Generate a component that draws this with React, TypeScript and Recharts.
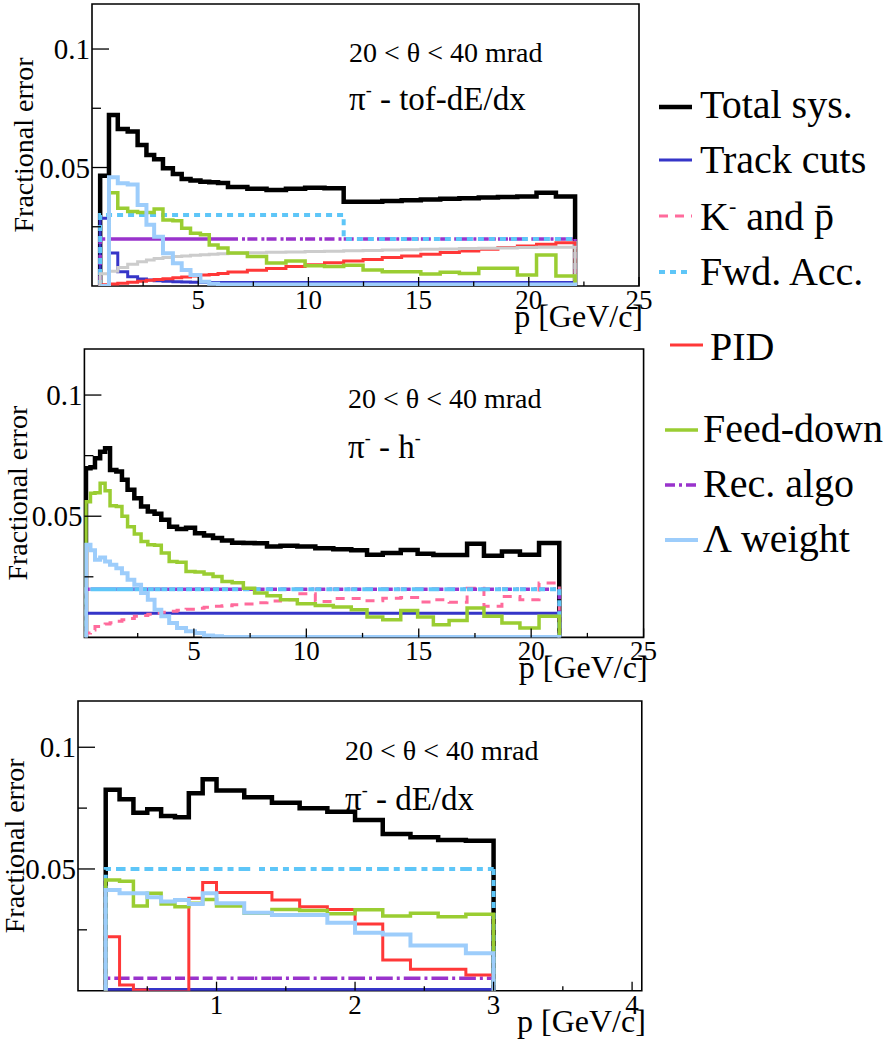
import React from 'react';
import { LineChart, Line, XAxis, YAxis, ReferenceArea, Label } from 'recharts';

const FONT = '"Liberation Serif", "Times New Roman", serif';
const TXT = { fontFamily: FONT };

// ---------- panel 1: pi- tof-dE/dx (bin edges in GeV/c, values = fractional error)
const tofEdges = [0.55, 0.95, 1.35, 1.8, 2.25, 2.65, 3.0, 3.4, 3.85, 4.25, 4.65, 5.1, 5.5, 5.9, 6.35,
  7.23, 8.1, 8.98, 9.85, 10.73, 11.6, 12.48, 13.35, 14.23, 15.1, 15.98, 16.85, 17.73, 18.6, 19.48, 20.35, 21.23, 22.1];
const tofTotal = [0.0465, 0.0722, 0.0662, 0.0652, 0.0595, 0.0553, 0.0535, 0.0497, 0.0473, 0.0451, 0.0445, 0.044, 0.0438, 0.0435,
  0.0418, 0.041, 0.0405, 0.041, 0.0415, 0.0413, 0.0355, 0.0356, 0.0359, 0.0362, 0.0365, 0.0368, 0.037, 0.0373, 0.0376, 0.0378, 0.0394, 0.0378];
const tofTrack = [0.0286, 0.0139, 0.006, 0.0039, 0.003, 0.0025, 0.0022, 0.002, 0.0018, 0.0017, 0.0016,
  0.0015, 0.0015, 0.0015, 0.0015, 0.0015, 0.0015, 0.0015, 0.0015, 0.0015, 0.0015,
  0.0015, 0.0015, 0.0015, 0.0015, 0.0015, 0.0015, 0.0015, 0.0015, 0.0015, 0.0015, 0.0015];
const tofFwd = [0.03, 0.03, 0.03, 0.03, 0.03, 0.03, 0.03, 0.03, 0.03, 0.03,
  0.03, 0.03, 0.03, 0.03, 0.03, 0.03, 0.03, 0.03, 0.03, 0.03,
  0.0198, 0.0198, 0.0198, 0.0198, 0.0198, 0.0198, 0.0198, 0.0198, 0.0198, 0.0198, 0.0198, 0.0198];
const tofPid = [0.0005, 0.0008, 0.0012, 0.0016, 0.002, 0.0024, 0.0027, 0.0031, 0.0035, 0.0038, 0.0042, 0.0046, 0.0049, 0.0053,
  0.0059, 0.0066, 0.0074, 0.0082, 0.009, 0.0098, 0.0105, 0.0112, 0.012, 0.0127, 0.0134, 0.0141, 0.0148, 0.0155, 0.0162, 0.0169, 0.0176, 0.0183];
const tofOther = [0.0052, 0.0062, 0.0078, 0.0092, 0.0102, 0.011, 0.0116, 0.012, 0.0124, 0.0127, 0.013, 0.0132, 0.0134, 0.0136,
  0.0138, 0.014, 0.0142, 0.0144, 0.0146, 0.0147, 0.0149, 0.015, 0.0152, 0.0153, 0.0155, 0.0156, 0.0158, 0.0159, 0.016, 0.0162, 0.0163, 0.0164];
const tofFeed = [0, 0.0394, 0.0328, 0.0314, 0.031, 0.031, 0.0325, 0.0279, 0.0275, 0.0244, 0.0223, 0.0216, 0.0173, 0.016,
  0.0139, 0.0124, 0.0097, 0.0105, 0.0085, 0.0082, 0.0088, 0.0068, 0.006, 0.006, 0.0051, 0.0058, 0.0053, 0.0075, 0.0075, 0.0046, 0.0131, 0.0042];
const tofRec = [0.0198, 0.0198, 0.0198, 0.0198, 0.0198, 0.0198, 0.0198, 0.0198, 0.0198, 0.0198,
  0.0198, 0.0198, 0.0198, 0.0198, 0.0198, 0.0198, 0.0198, 0.0198, 0.0198, 0.0198,
  0.0198, 0.0198, 0.0198, 0.0198, 0.0198, 0.0198, 0.0198, 0.0198, 0.0198, 0.0198, 0.0198, 0.0198];
const tofLambda = [0, 0.0459, 0.0434, 0.0428, 0.0342, 0.0258, 0.0208, 0.0138, 0.0096, 0.0068, 0.0046, 0.0018, 0.001,
  0.0006, 0.0006, 0.0006, 0.0006, 0.0006, 0.0006, 0.0006, 0.0006, 0.0006, 0.0006,
  0.0006, 0.0006, 0.0006, 0.0006, 0.0006, 0.0006, 0.0006, 0.0006, 0.0006, 0.0006];

// ---------- panel 2: pi- h-
const hEdges = [0.2, 0.4, 0.6, 0.83, 1.05, 1.27, 1.55, 1.8, 2.05, 2.35, 2.65, 2.95, 3.25, 3.55, 3.9, 4.25, 4.65, 5.05, 5.45, 5.85,
  6.25, 6.7, 7.2, 7.7, 8.25, 8.85, 9.6, 10.4, 11.2, 12.0, 12.7, 13.4, 14.2, 14.95, 15.65, 16.35, 17.15, 17.9, 18.7, 19.5, 20.35, 21.25];
const hTotal = [0.0698, 0.0702, 0.0739, 0.0766, 0.078, 0.0691, 0.0685, 0.065, 0.0609, 0.0574, 0.054, 0.0519, 0.051, 0.0485,
  0.0457, 0.0447, 0.0452, 0.043, 0.042, 0.041, 0.04, 0.0391, 0.0389, 0.0388, 0.0375, 0.0378, 0.0375, 0.0368, 0.0364, 0.036,
  0.0341, 0.0348, 0.0361, 0.0345, 0.034, 0.034, 0.0386, 0.0337, 0.0354, 0.0341, 0.0389];
const hTrack = [0.01, 0.01, 0.01, 0.01, 0.01, 0.01, 0.01, 0.01, 0.01, 0.01, 0.01, 0.01, 0.01, 0.01,
  0.01, 0.01, 0.01, 0.01, 0.01, 0.01, 0.01, 0.01, 0.01, 0.01, 0.01, 0.01, 0.01, 0.01,
  0.01, 0.01, 0.01, 0.01, 0.01, 0.01, 0.01, 0.01, 0.01, 0.01, 0.01, 0.01, 0.01];
const hKp = [0.0018, 0.003, 0.0045, 0.0052, 0.0055, 0.006, 0.0067, 0.0073, 0.0078, 0.0087, 0.009, 0.0096, 0.01, 0.0104,
  0.0108, 0.0112, 0.0116, 0.012, 0.0124, 0.0128, 0.0131, 0.0135, 0.0138, 0.0143, 0.015, 0.0155, 0.018, 0.0148, 0.016, 0.016,
  0.0151, 0.0162, 0.0165, 0.0146, 0.0155, 0.0145, 0.0203, 0.0128, 0.0169, 0.0155, 0.0224];
const hFwd = [0.0199, 0.0199, 0.0199, 0.0199, 0.0199, 0.0199, 0.0199, 0.0199, 0.0199, 0.0199, 0.0199, 0.0199, 0.0199, 0.0199,
  0.0199, 0.0199, 0.0199, 0.0199, 0.0199, 0.0199, 0.0199, 0.0199, 0.0199, 0.0199, 0.0199, 0.0199, 0.0199, 0.0199,
  0.0199, 0.0199, 0.0199, 0.0199, 0.0199, 0.0199, 0.0199, 0.0199, 0.0199, 0.0199, 0.0199, 0.0199, 0.0199];
const hFeed = [0.056, 0.0595, 0.0597, 0.0636, 0.0605, 0.0543, 0.054, 0.05, 0.0457, 0.0427, 0.0396, 0.0382, 0.038, 0.0348,
  0.0313, 0.031, 0.0272, 0.027, 0.0262, 0.0251, 0.0231, 0.0225, 0.0203, 0.0183, 0.0172, 0.0155, 0.0139, 0.0132, 0.0125, 0.0114,
  0.0084, 0.0073, 0.0111, 0.0084, 0.0052, 0.007, 0.0121, 0.0087, 0.0059, 0.0039, 0.0087];
const hRec = [0.0199, 0.0199, 0.0199, 0.0199, 0.0199, 0.0199, 0.0199, 0.0199, 0.0199, 0.0199, 0.0199, 0.0199, 0.0199, 0.0199,
  0.0199, 0.0199, 0.0199, 0.0199, 0.0199, 0.0199, 0.0199, 0.0199, 0.0199, 0.0199, 0.0199, 0.0199, 0.0199, 0.0199,
  0.0199, 0.0199, 0.0199, 0.0199, 0.0199, 0.0199, 0.0199, 0.0199, 0.0199, 0.0199, 0.0199, 0.0199, 0.0199];
const hLambda = [0.0382, 0.036, 0.032, 0.033, 0.0313, 0.03, 0.0285, 0.0265, 0.0238, 0.0217, 0.0183, 0.0155, 0.0114, 0.0087,
  0.0059, 0.0039, 0.0025, 0.0018, 0.0008, 0.0005, 0.0002, 0.0002, 0.0002, 0.0002, 0.0002, 0.0002, 0.0002, 0.0002,
  0.0002, 0.0002, 0.0002, 0.0002, 0.0002, 0.0002, 0.0002, 0.0002, 0.0002, 0.0002, 0.0002, 0.0002, 0.0002];

// ---------- panel 3: pi- dE/dx
const deEdges = [0.2, 0.3, 0.4, 0.5, 0.6, 0.7, 0.8, 0.9, 1.0, 1.2, 1.4, 1.6, 1.8, 2.0, 2.2, 2.4, 2.6, 2.8, 3.0];
const deTotal = [0.0825, 0.0786, 0.0731, 0.0745, 0.0718, 0.0712, 0.0811, 0.0869, 0.0822, 0.0795, 0.0772, 0.0749, 0.0735, 0.0701, 0.0644, 0.063, 0.0619, 0.0616];
const deTrack = [0.0005, 0.0005, 0.0005, 0.0005, 0.0005, 0.0005, 0.0005, 0.0005, 0.0005, 0.0005, 0.0005, 0.0005, 0.0005, 0.0005, 0.0005, 0.0005, 0.0005, 0.0005];
const deFwd = [0.05, 0.05, 0.05, 0.05, 0.05, 0.05, 0.05, 0.05, 0.05, 0.05, 0.05, 0.05, 0.05, 0.05, 0.05, 0.05, 0.05, 0.05];
const dePid = [0.0222, 0.0023, 0.0003, -0.0004, -0.0004, -0.0004, 0.038, 0.0444, 0.0403, 0.0403, 0.0373, 0.0345, 0.0334, 0.0274, 0.0126, 0.0088, 0.0088, 0.0064];
const deFeed = [0.0455, 0.045, 0.0348, 0.04, 0.0356, 0.0345, 0.0359, 0.0375, 0.0348, 0.0318, 0.0334, 0.0329, 0.0316, 0.0332, 0.0307, 0.0318, 0.0304, 0.0314];
const deRec = [0.0051, 0.0051, 0.0051, 0.0051, 0.0051, 0.0051, 0.0051, 0.0051, 0.0051, 0.0051, 0.0051, 0.0051, 0.0051, 0.0051, 0.0051, 0.0051, 0.0051, 0.0051];
const deLambda = [0.0414, 0.04, 0.04, 0.0384, 0.0366, 0.0373, 0.0356, 0.04, 0.0359, 0.032, 0.0311, 0.0311, 0.0279, 0.0238, 0.0231, 0.0186, 0.0186, 0.0154];

// axis ticks
const yTicks = [0.025, 0.05, 0.075, 0.1];
const yLabelled = [0.05, 0.1];
const pTicksWide = [2.5, 5, 7.5, 10, 12.5, 15, 17.5, 20, 22.5, 25];
const pLabelsWide = [5, 10, 15, 20, 25];
const pTicksNarrow = [0.5, 1, 1.5, 2, 2.5, 3, 3.5, 4];
const pLabelsNarrow = [1, 2, 3, 4];

const STYLE: Record<string, { color: string; width: number; dash?: string }> = {
  total: { color: '#000000', width: 4.5 },
  track: { color: '#3535c8', width: 3 },
  kp: { color: '#ff6b9c', width: 3, dash: '9 7' },
  fwd: { color: '#5ec6f8', width: 4, dash: '6 5' },
  pid: { color: '#ff3838', width: 3 },
  other: { color: '#cccccc', width: 3 },
  feed: { color: '#9acd32', width: 3.5 },
  rec: { color: '#9933cc', width: 3.5, dash: '10 4 3 4' },
  lambda: { color: '#9dcdfb', width: 4 },
};

type Row = { p: number; [k: string]: number };

// step-histogram rows: start and end at zero so the outer bin edges are drawn
function histRows(edges: number[], series: Record<string, number[]>): Row[] {
  const keys = Object.keys(series);
  const n = edges.length - 1;
  const zero = (p: number) => {
    const r: Row = { p };
    keys.forEach((k) => (r[k] = 0));
    return r;
  };
  const rows: Row[] = [zero(edges[0])];
  for (let i = 0; i <= n; i++) {
    const r: Row = { p: edges[i] };
    keys.forEach((k) => (r[k] = series[k][Math.min(i, n - 1)]));
    rows.push(r);
  }
  rows.push(zero(edges[n]));
  return rows;
}

// series are listed in drawing order
const panels = [
  {
    box: { top: 4, bottom: 286, left: 92, right: 639 },
    xDomain: [0.18, 25],
    xTicks: pTicksWide,
    xLabels: pLabelsWide,
    yTitleX: 23,
    rows: histRows(tofEdges, {
      total: tofTotal, track: tofTrack, rec: tofRec, fwd: tofFwd, pid: tofPid, other: tofOther,
      feed: tofFeed, lambda: tofLambda,
    }),
  },
  {
    box: { top: 349.3, bottom: 637.7, left: 84.4, right: 643.6 },
    xDomain: [0.13, 25],
    xTicks: pTicksWide,
    xLabels: pLabelsWide,
    yTitleX: 17,
    rows: histRows(hEdges, {
      total: hTotal, track: hTrack, kp: hKp, rec: hRec, fwd: hFwd, feed: hFeed, lambda: hLambda,
    }),
  },
  {
    box: { top: 701, bottom: 990.7, left: 78, right: 641.8 },
    xDomain: [0, 4.07],
    xTicks: pTicksNarrow,
    xLabels: pLabelsNarrow,
    yTitleX: 14,
    rows: histRows(deEdges, {
      total: deTotal, track: deTrack, rec: deRec, fwd: deFwd, pid: dePid, feed: deFeed, lambda: deLambda,
    }),
  },
];

const Y_MAX = 0.119;
const CHART_W = 672;

function Panel({ cfg }: { cfg: (typeof panels)[number] }) {
  const { box } = cfg;
  const plotH = box.bottom - box.top;
  const height = 4 + plotH + 50 + 2;
  const keys = Object.keys(cfg.rows[0]).filter((k) => k !== 'p');
  return (
    <div style={{ position: 'absolute', left: 0, top: box.top - 4 }}>
      <LineChart
        width={CHART_W}
        height={height}
        data={cfg.rows}
        margin={{ top: 4, right: CHART_W - box.right, bottom: 2, left: 0 }}
      >
        <ReferenceArea
          x1={cfg.xDomain[0]}
          x2={cfg.xDomain[1]}
          y1={0}
          y2={Y_MAX}
          fill="none"
          stroke="#000"
          strokeWidth={1.6}
        />
        <XAxis
          type="number"
          dataKey="p"
          domain={cfg.xDomain}
          allowDataOverflow
          ticks={cfg.xTicks}
          interval={0}
          height={50}
          axisLine={false}
          tickLine={false}
          tickSize={0}
          tickMargin={0}
          tick={(props: any) => {
            const { x, y, payload } = props;
            const major = cfg.xLabels.includes(payload.value);
            return (
              <g>
                <line x1={x} x2={x} y1={y} y2={y - (major ? 9 : 4.5)} stroke="#000" strokeWidth={1.3} />
                {major && (
                  <text x={x} y={y + 23} textAnchor="middle" style={TXT} fontSize={27} fill="#000">
                    {payload.value}
                  </text>
                )}
              </g>
            );
          }}
          label={
            <Label
              content={(props: any) => {
                const vb = props.viewBox;
                return (
                  <text x={vb.x + vb.width + 4} y={vb.y + 41} textAnchor="end" style={TXT} fontSize={32} fill="#000">
                    p [GeV/c]
                  </text>
                );
              }}
            />
          }
        />
        <YAxis
          type="number"
          domain={[0, Y_MAX]}
          allowDataOverflow
          ticks={yTicks}
          interval={0}
          width={box.left}
          axisLine={false}
          tickLine={false}
          tickSize={0}
          tickMargin={0}
          tick={(props: any) => {
            const { x, y, payload } = props;
            const major = yLabelled.includes(payload.value);
            return (
              <g>
                <line x1={x} x2={x + (major ? 17 : 9)} y1={y} y2={y} stroke="#000" strokeWidth={1.3} />
                {major && (
                  <text x={x - 2} y={y + 10} textAnchor="end" style={TXT} fontSize={29} fill="#000">
                    {payload.value}
                  </text>
                )}
              </g>
            );
          }}
          label={
            <Label
              content={(props: any) => {
                const vb = props.viewBox;
                const cy = vb.y + vb.height / 2;
                return (
                  <text
                    x={cfg.yTitleX}
                    y={cy}
                    transform={`rotate(-90 ${cfg.yTitleX} ${cy})`}
                    textAnchor="middle"
                    dominantBaseline="central"
                    style={TXT}
                    fontSize={28}
                    fill="#000"
                  >
                    Fractional error
                  </text>
                );
              }}
            />
          }
        />
        {keys.map((k) => (
          <Line
            key={k}
            type="stepAfter"
            dataKey={k}
            stroke={STYLE[k].color}
            strokeWidth={STYLE[k].width}
            strokeDasharray={STYLE[k].dash}
            strokeLinejoin="miter"
            strokeLinecap="butt"
            dot={false}
            activeDot={false}
            isAnimationActive={false}
          />
        ))}
      </LineChart>
    </div>
  );
}

// legend layout (page pixels)
const legendItems = [
  { key: 'total', x1: 659, x2: 692, ly: 107, tx: 700, ty: 118 },
  { key: 'track', x1: 659, x2: 692, ly: 160, tx: 700, ty: 173 },
  { key: 'kp', x1: 659, x2: 692, ly: 216, tx: 700, ty: 230 },
  { key: 'fwd', x1: 659, x2: 692, ly: 272, tx: 700, ty: 285 },
  { key: 'pid', x1: 670, x2: 703, ly: 345, tx: 710, ty: 360 },
  { key: 'feed', x1: 665, x2: 698, ly: 430, tx: 703, ty: 442 },
  { key: 'rec', x1: 665, x2: 698, ly: 485, tx: 703, ty: 497 },
  { key: 'lambda', x1: 665, x2: 698, ly: 540, tx: 703, ty: 552 },
];

function legendText(key: string) {
  switch (key) {
    case 'total': return 'Total sys.';
    case 'track': return 'Track cuts';
    case 'kp':
      return (
        <>
          K<tspan dy={-17} fontSize={22}>-</tspan>
          <tspan dy={17}> and {'p\u0304'}</tspan>
        </>
      );
    case 'fwd': return 'Fwd. Acc.';
    case 'pid': return 'PID';
    case 'feed': return 'Feed-down';
    case 'rec': return 'Rec. algo';
    default: return 'Λ weight';
  }
}

const annotations = [
  { x: 349, y1: 61.5, y2: 110, tail: ' - tof-dE/dx', supTail: false },
  { x: 348, y1: 408, y2: 458, tail: ' - h', supTail: true },
  { x: 345, y1: 760, y2: 810, tail: ' - dE/dx', supTail: false },
];

export default function App() {
  return (
    <div style={{ position: 'absolute', left: 0, top: 0, width: 885, height: 1046, overflow: 'hidden', background: '#fff' }}>
      {panels.map((cfg, i) => (
        <Panel key={i} cfg={cfg} />
      ))}
      <svg width={885} height={1046} style={{ position: 'absolute', left: 0, top: 0, pointerEvents: 'none', fontFamily: FONT }}>
        {annotations.map((a, i) => (
          <g key={i} fill="#000">
            <text x={a.x} y={a.y1} fontSize={28} style={TXT}>20 &lt; θ &lt; 40 mrad</text>
            <text x={a.x} y={a.y2} fontSize={33} style={TXT}>
              π<tspan dy={-14} fontSize={18}>-</tspan>
              <tspan dy={14}>{a.tail}</tspan>
              {a.supTail && <tspan dy={-14} fontSize={18}>-</tspan>}
            </text>
          </g>
        ))}
        {legendItems.map((it) => {
          const s = STYLE[it.key];
          return (
            <g key={it.key}>
              <line x1={it.x1} x2={it.x2} y1={it.ly} y2={it.ly} stroke={s.color} strokeWidth={s.width} strokeDasharray={s.dash} />
              <text x={it.tx} y={it.ty} fontSize={40} fill="#000" style={TXT}>{legendText(it.key)}</text>
            </g>
          );
        })}
      </svg>
    </div>
  );
}
